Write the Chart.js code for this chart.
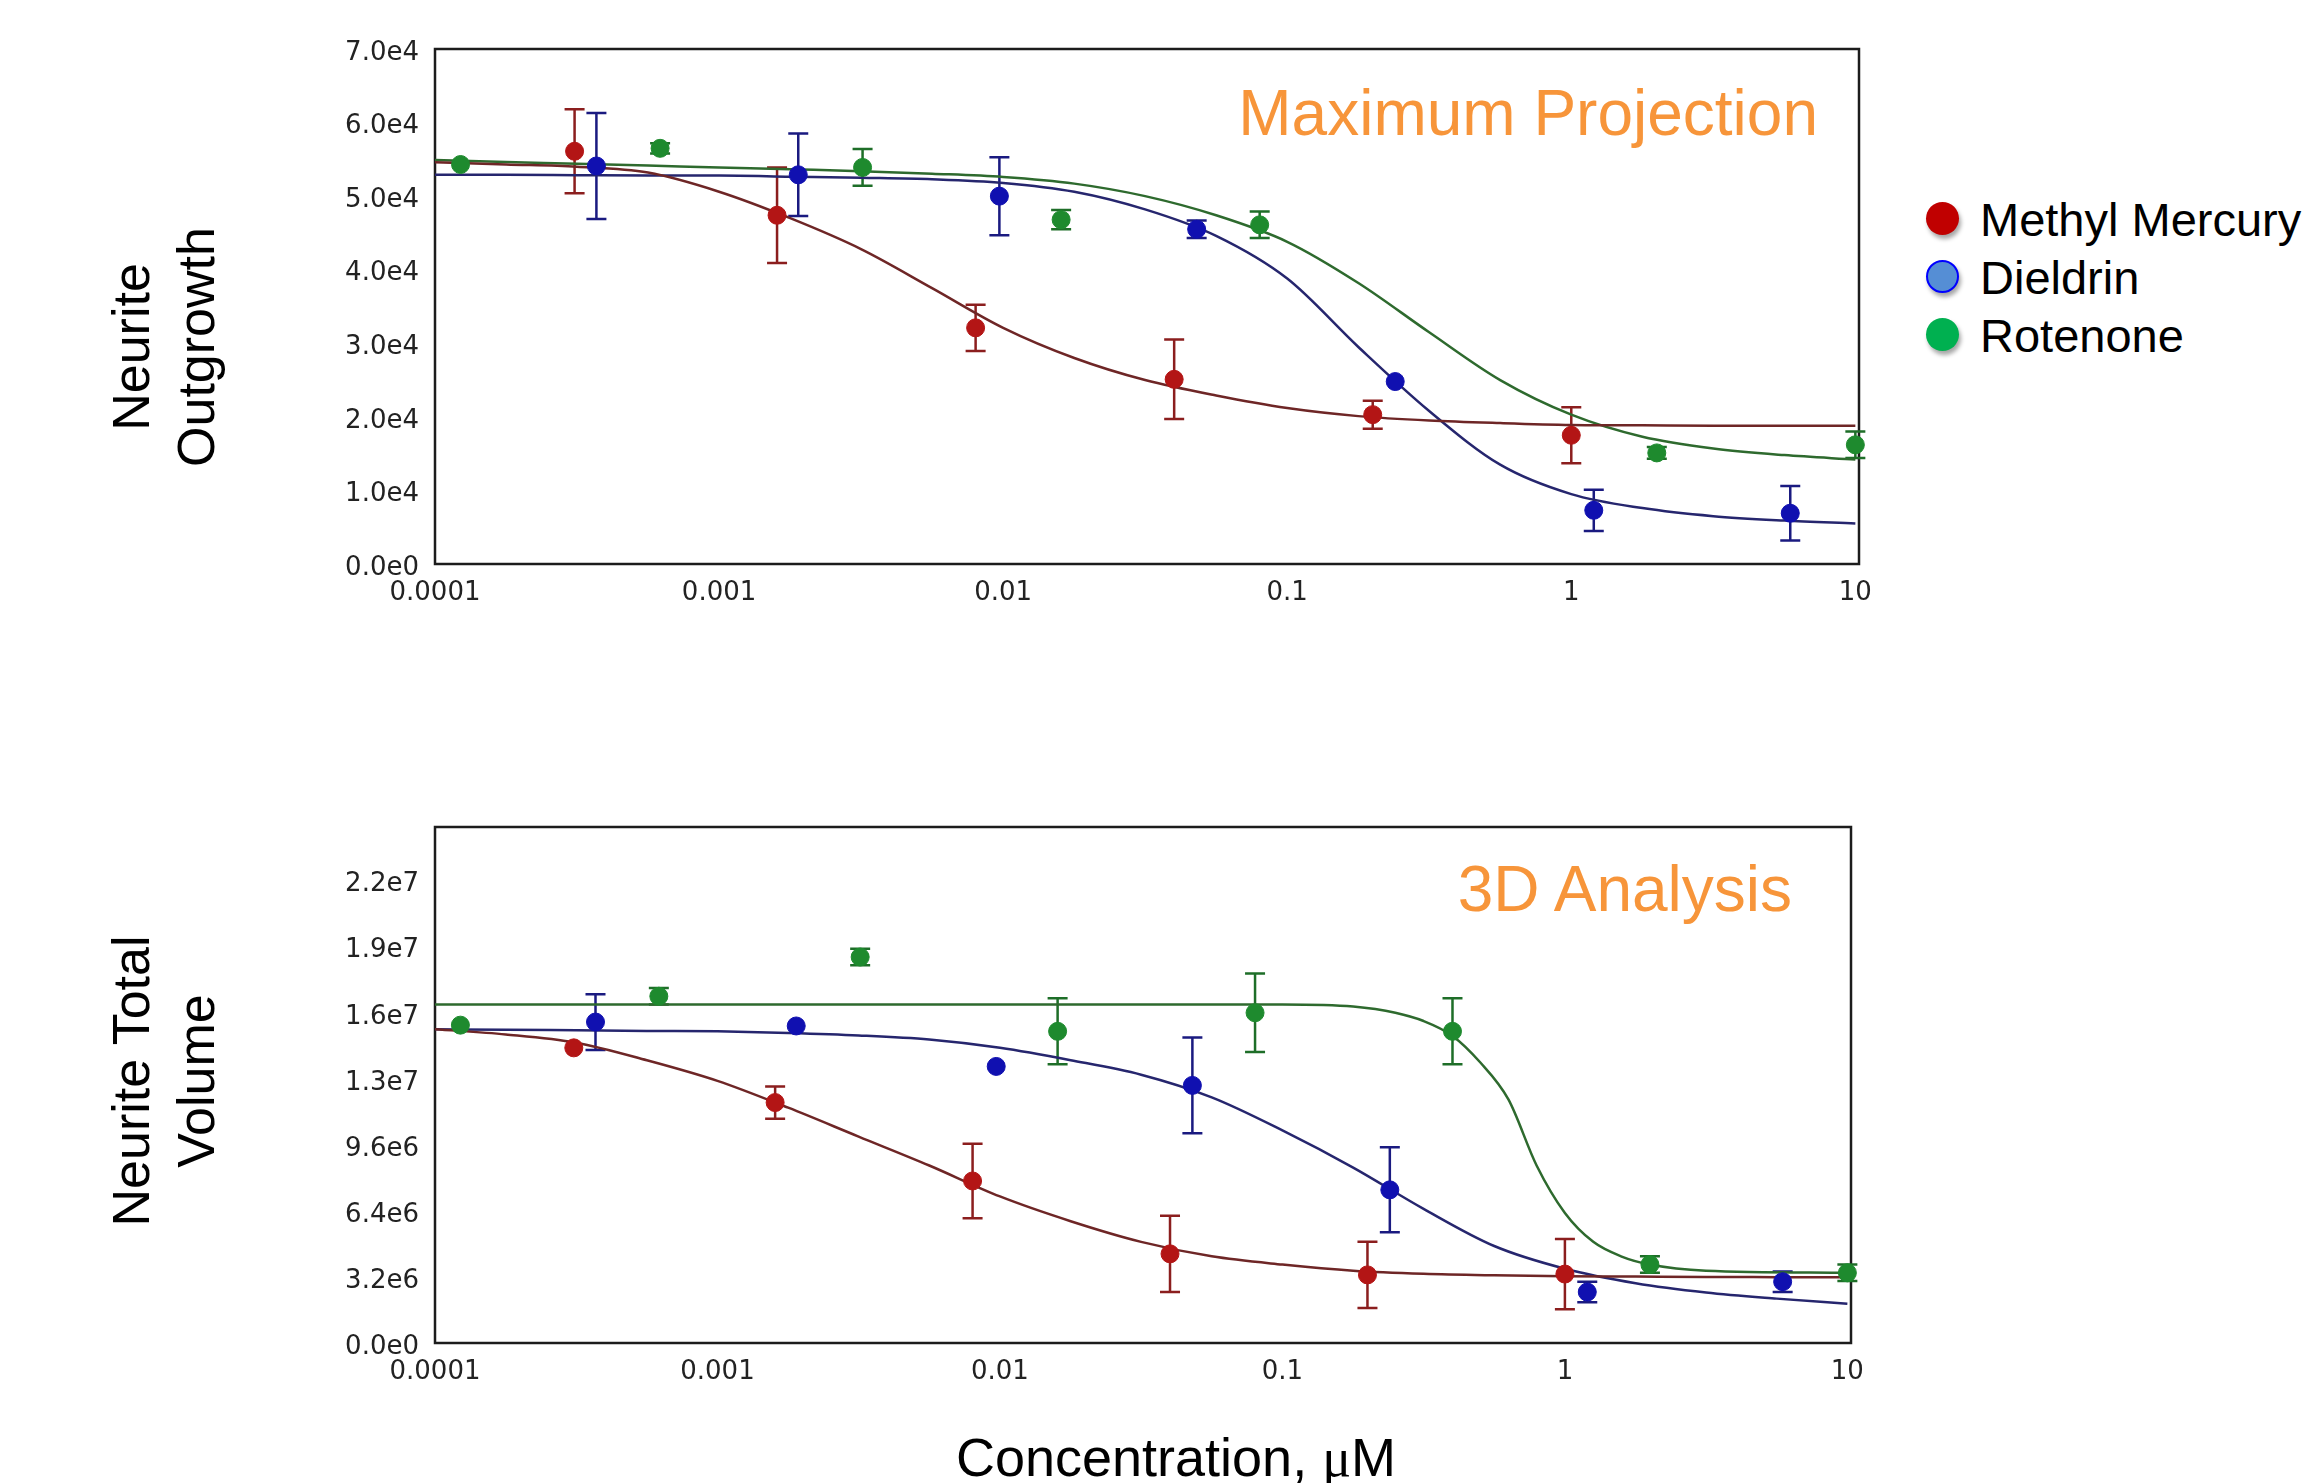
<!DOCTYPE html>
<html>
<head>
<meta charset="utf-8">
<script src="https://cdn.jsdelivr.net/npm/chart.js@4.4.1/dist/chart.umd.min.js"></script>
<style>
html, body { margin: 0; padding: 0; background: #ffffff; }
body { width: 2315px; height: 1483px; position: relative; overflow: hidden; font-family: "Liberation Sans", Arial, sans-serif; color: #000; }
#topWrap { position: absolute; left: 0; top: 0; width: 1920px; height: 640px; }
#botWrap { position: absolute; left: 0; top: 760px; width: 1920px; height: 700px; }
.panelTitle { position: absolute; color: #F7953A; font-size: 64px; line-height: 64px; white-space: nowrap; }
.ytitle { position: absolute; width: 400px; height: 130px; line-height: 65px; font-size: 52px; text-align: center; transform: rotate(-90deg); white-space: nowrap; }
.xtitle { position: absolute; left: 776px; width: 800px; top: 1430px; font-size: 54px; line-height: 54px; text-align: center; white-space: nowrap; }
.mu { font-family: "Liberation Serif", "Times New Roman", serif; }
.lgDot { position: absolute; width: 33px; height: 33px; border-radius: 50%; box-shadow: 2px 4px 4px rgba(0,0,0,0.35); box-sizing: border-box; }
.lgText { position: absolute; left: 1980px; font-size: 47px; line-height: 47px; white-space: nowrap; }
</style>
</head>
<body>
<div id="topWrap"><canvas id="topChart"></canvas></div>
<div id="botWrap"><canvas id="botChart"></canvas></div>

<div class="panelTitle" style="right:497px; top:81px;">Maximum Projection</div>
<div class="panelTitle" style="right:523px; top:857px;">3D Analysis</div>

<div class="ytitle" style="left:-36px; top:282px;">Neurite<br>Outgrowth</div>
<div class="ytitle" style="left:-36px; top:1016px;">Neurite Total<br>Volume</div>
<div class="xtitle">Concentration, <span class="mu">μ</span>M</div>

<div class="lgDot" style="left:1926px; top:202px; background:#C00000;"></div>
<div class="lgText" style="top:196px;">Methyl Mercury</div>
<div class="lgDot" style="left:1926px; top:260px; background:#558ED5; border:2px solid #0000FF;"></div>
<div class="lgText" style="top:254px;">Dieldrin</div>
<div class="lgDot" style="left:1926px; top:318px; background:#00B050;"></div>
<div class="lgText" style="top:312px;">Rotenone</div>

<script>
// ---------- tick labels ----------
const xTickValues = [0.0001, 0.001, 0.01, 0.1, 1, 10];
const xTickLabels = ['0.0001', '0.001', '0.01', '0.1', '1', '10'];
const topYTickValues = [0, 10000, 20000, 30000, 40000, 50000, 60000, 70000];
const topYTickLabels = ['0.0e0', '1.0e4', '2.0e4', '3.0e4', '4.0e4', '5.0e4', '6.0e4', '7.0e4'];
const botYTickValues = [0, 3.2e6, 6.4e6, 9.6e6, 1.28e7, 1.6e7, 1.92e7, 2.24e7];
const botYTickLabels = ['0.0e0', '3.2e6', '6.4e6', '9.6e6', '1.3e7', '1.6e7', '1.9e7', '2.2e7'];

// ---------- series names ----------
const seriesNames = ['Methyl Mercury', 'Dieldrin', 'Rotenone'];

// ---------- measured concentrations (µM) ----------
const mehgConc = [0.00031, 0.0016, 0.008, 0.04, 0.2, 1.0];
const dieldrinConc = [0.00037, 0.0019, 0.0097, 0.048, 0.24, 1.2, 5.9];
const rotenoneConcTop = [0.000123, 0.00062, 0.0032, 0.016, 0.08, 2.0, 10];
const rotenoneConcBot = [0.000123, 0.00062, 0.0032, 0.016, 0.08, 0.4, 2.0, 10];

// ---------- Neurite Outgrowth (Maximum Projection) ----------
const mehgOutgrowth = [56100, 47400, 32100, 25100, 20300, 17500];
const mehgOutgrowthErr = [5700, 6500, 3150, 5400, 1900, 3800];
const dieldrinOutgrowth = [54100, 52900, 50000, 45500, 24800, 7300, 6900];
const dieldrinOutgrowthErr = [7200, 5600, 5300, 1200, 0, 2800, 3700];
const rotenoneOutgrowth = [54300, 56500, 53900, 46800, 46100, 15100, 16200];
const rotenoneOutgrowthErr = [0, 700, 2500, 1300, 1800, 800, 1800];

// fitted curves at quarter-decade steps
const fitConcA = [0.0001, 0.000178, 0.000316, 0.000562, 0.001, 0.00178, 0.00316, 0.00562, 0.01, 0.0178, 0.0316, 0.0562, 0.1, 0.178, 0.316, 0.562, 1, 1.78, 3.16, 5.62, 10];
const mehgOutgrowthFit = [54600, 54300, 54000, 53200, 50600, 47000, 42800, 37500, 32100, 28000, 25000, 22900, 21200, 20100, 19500, 19150, 18900, 18850, 18800, 18800, 18800];
const dieldrinOutgrowthFit = [52900, 52900, 52850, 52800, 52800, 52650, 52500, 52300, 51800, 50600, 48200, 44600, 38800, 29500, 20800, 13500, 9500, 7600, 6500, 5900, 5500];
const rotenoneOutgrowthFit = [54900, 54650, 54400, 54150, 53900, 53650, 53400, 53050, 52600, 51700, 50000, 47400, 43800, 38200, 31500, 25000, 20300, 17300, 15700, 14800, 14200];

// ---------- Neurite Total Volume (3D Analysis) ----------
const mehgVolume = [14.3e6, 11.65e6, 7.85e6, 4.32e6, 3.30e6, 3.34e6];
const mehgVolumeErr = [0, 0.78e6, 1.8e6, 1.85e6, 1.6e6, 1.7e6];
const dieldrinVolume = [15.55e6, 15.36e6, 13.4e6, 12.48e6, 7.42e6, 2.47e6, 2.97e6];
const dieldrinVolumeErr = [1.35e6, 0, 0, 2.32e6, 2.06e6, 0.5e6, 0.5e6];
const rotenoneVolume = [15.4e6, 16.8e6, 18.7e6, 15.1e6, 16.0e6, 15.1e6, 3.8e6, 3.4e6];
const rotenoneVolumeErr = [0, 0.4e6, 0.4e6, 1.6e6, 1.9e6, 1.6e6, 0.4e6, 0.4e6];

const mehgVolumeFit = [15.2e6, 14.95e6, 14.55e6, 13.7e6, 12.7e6, 11.4e6, 10.0e6, 8.6e6, 7.1e6, 5.9e6, 4.9e6, 4.2e6, 3.8e6, 3.5e6, 3.35e6, 3.28e6, 3.24e6, 3.22e6, 3.2e6, 3.19e6, 3.18e6];
const dieldrinVolumeFit = [15.2e6, 15.18e6, 15.15e6, 15.12e6, 15.1e6, 15.02e6, 14.9e6, 14.7e6, 14.3e6, 13.7e6, 13.0e6, 11.9e6, 10.3e6, 8.5e6, 6.5e6, 4.7e6, 3.6e6, 2.9e6, 2.45e6, 2.15e6, 1.9e6];
const fitConcB = [0.0001, 0.001, 0.01, 0.1, 0.178, 0.251, 0.316, 0.398, 0.501, 0.631, 0.794, 1, 1.26, 1.58, 2, 3.16, 10];
const rotenoneVolumeFit = [16.4e6, 16.4e6, 16.4e6, 16.4e6, 16.3e6, 16.0e6, 15.6e6, 14.9e6, 13.6e6, 11.8e6, 8.6e6, 6.3e6, 4.9e6, 4.2e6, 3.8e6, 3.5e6, 3.4e6];

// ---------- styles ----------
const pointColors = ['#B31515', '#1010B0', '#1E8A2E'];
const errorColors = ['#8B1E1E', '#1A1A80', '#1E6E28'];
const curveColors = ['#6E2626', '#26266E', '#2E6A2E'];

function pts(xs, ys) { return xs.map((x, i) => ({ x: x, y: ys[i] })); }

const boxAndErrorPlugin = {
  id: 'boxAndErrors',
  beforeDatasetsDraw(chart) {
    const ctx = chart.ctx;
    const a = chart.chartArea;
    ctx.save();
    ctx.strokeStyle = '#1c1c1c';
    ctx.lineWidth = 2.5;
    ctx.strokeRect(a.left, a.top, a.right - a.left, a.bottom - a.top);
    const ys = chart.scales.y;
    chart.data.datasets.forEach((ds, di) => {
      if (!ds.errors) return;
      const meta = chart.getDatasetMeta(di);
      ctx.strokeStyle = ds.errorColor;
      ctx.lineWidth = 2.5;
      meta.data.forEach((el, i) => {
        const v = ds.data[i].y, e = ds.errors[i];
        if (!e) return;
        const yt = ys.getPixelForValue(v + e), yb = ys.getPixelForValue(v - e);
        const x = el.x, c = 10;
        ctx.beginPath();
        ctx.moveTo(x, yt); ctx.lineTo(x, yb);
        ctx.moveTo(x - c, yt); ctx.lineTo(x + c, yt);
        ctx.moveTo(x - c, yb); ctx.lineTo(x + c, yb);
        ctx.stroke();
      });
    });
    ctx.restore();
  }
};

function pointSet(i, xs, ys, errs) {
  return {
    label: seriesNames[i], data: pts(xs, ys), errors: errs, errorColor: errorColors[i],
    backgroundColor: pointColors[i], borderColor: pointColors[i], borderWidth: 1,
    pointRadius: 9, pointHoverRadius: 9, showLine: false, clip: false, order: 1
  };
}
function curveSet(i, xs, ys) {
  return {
    label: seriesNames[i] + ' fit', data: pts(xs, ys), showLine: true,
    borderColor: curveColors[i], borderWidth: 2.5, pointRadius: 0, pointHoverRadius: 0,
    cubicInterpolationMode: 'monotone', fill: false, order: 2
  };
}

const tickFont = { family: 'DejaVu Sans', size: 26 };
const tickColor = '#222222';

function makeChart(id, datasets, yMax, yVals, yLabels, area, canvasH) {
  return new Chart(document.getElementById(id), {
    type: 'scatter',
    data: { datasets: datasets },
    plugins: [boxAndErrorPlugin],
    options: {
      responsive: true, maintainAspectRatio: false, animation: false,
      layout: { padding: { left: 0, top: area.top, right: 1920 - area.right, bottom: 0 } },
      plugins: { legend: { display: false }, tooltip: { enabled: false } },
      scales: {
        x: {
          type: 'logarithmic', min: 0.0001, max: 10.3,
          grid: { display: false, drawTicks: false }, border: { display: false },
          ticks: { font: tickFont, color: tickColor, padding: 14, autoSkip: false, maxRotation: 0, minRotation: 0,
                   callback: (v, idx) => xTickLabels[idx] },
          afterBuildTicks: (s) => { s.ticks = xTickValues.map(v => ({ value: v })); },
          afterFit: (s) => { s.height = canvasH - area.bottom; s.paddingLeft = 0; s.paddingRight = 0; }
        },
        y: {
          type: 'linear', min: 0, max: yMax,
          grid: { display: false, drawTicks: false }, border: { display: false },
          ticks: { font: tickFont, color: tickColor, padding: 16, labelOffset: 4, autoSkip: false,
                   callback: (v, idx) => yLabels[idx] },
          afterBuildTicks: (s) => { s.ticks = yVals.map(v => ({ value: v })); },
          afterFit: (s) => { s.width = area.left; s.paddingTop = 0; s.paddingBottom = 0; }
        }
      }
    }
  });
}

makeChart('topChart', [
  pointSet(0, mehgConc, mehgOutgrowth, mehgOutgrowthErr),
  pointSet(1, dieldrinConc, dieldrinOutgrowth, dieldrinOutgrowthErr),
  pointSet(2, rotenoneConcTop, rotenoneOutgrowth, rotenoneOutgrowthErr),
  curveSet(0, fitConcA, mehgOutgrowthFit),
  curveSet(1, fitConcA, dieldrinOutgrowthFit),
  curveSet(2, fitConcA, rotenoneOutgrowthFit)
], 70000, topYTickValues, topYTickLabels, { left: 435, right: 1859, top: 49, bottom: 564 }, 640);

makeChart('botChart', [
  pointSet(0, mehgConc, mehgVolume, mehgVolumeErr),
  pointSet(1, dieldrinConc, dieldrinVolume, dieldrinVolumeErr),
  pointSet(2, rotenoneConcBot, rotenoneVolume, rotenoneVolumeErr),
  curveSet(0, fitConcA, mehgVolumeFit),
  curveSet(1, fitConcA, dieldrinVolumeFit),
  curveSet(2, fitConcB, rotenoneVolumeFit)
], 2.5e7, botYTickValues, botYTickLabels, { left: 435, right: 1851, top: 67, bottom: 583 }, 700);
</script>
</body>
</html>
